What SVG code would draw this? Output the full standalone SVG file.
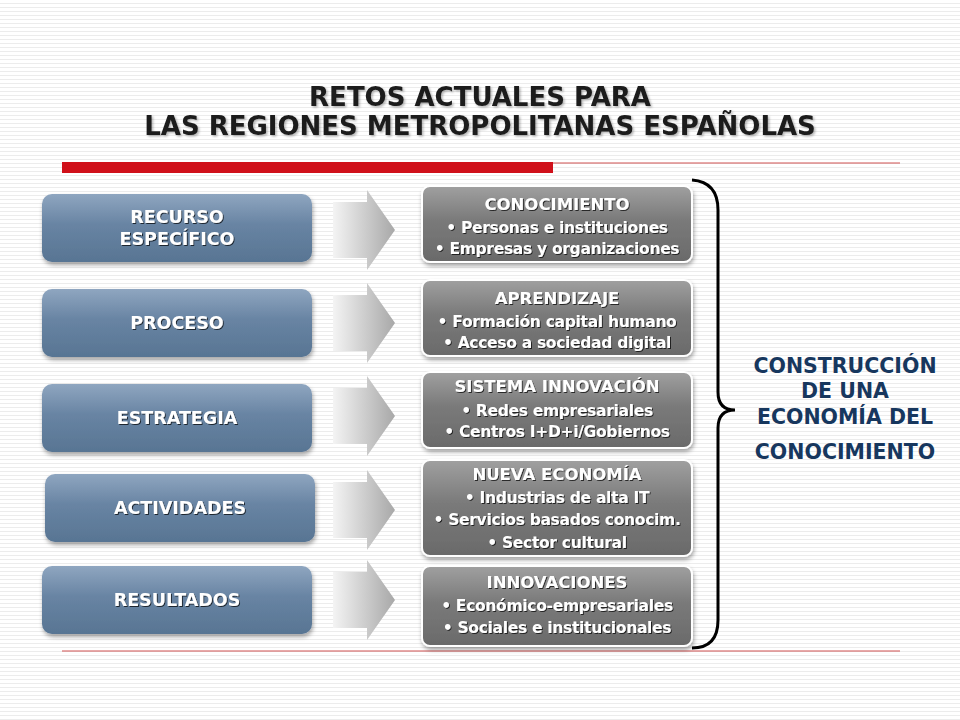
<svg xmlns="http://www.w3.org/2000/svg" width="960" height="720" viewBox="0 0 960 720">
<defs>
<pattern id="stripes" width="4" height="4" patternUnits="userSpaceOnUse"><rect width="4" height="4" fill="#ffffff"/><rect y="3" width="4" height="1" fill="#ececec"/></pattern>
<linearGradient id="blue" x1="0" y1="0" x2="0" y2="1"><stop offset="0" stop-color="#8fa6c0"/><stop offset="0.45" stop-color="#6884a3"/><stop offset="1" stop-color="#587593"/></linearGradient>
<linearGradient id="gray" x1="0" y1="0" x2="0" y2="1"><stop offset="0" stop-color="#a0a0a0"/><stop offset="0.45" stop-color="#7a7a7a"/><stop offset="1" stop-color="#6a6a6a"/></linearGradient>
<linearGradient id="arr" x1="0" y1="0" x2="1" y2="0"><stop offset="0" stop-color="#f4f4f4"/><stop offset="1" stop-color="#a8a8a8"/></linearGradient>
<filter id="sh" x="-10%" y="-10%" width="120%" height="130%"><feDropShadow dx="1" dy="3" stdDeviation="2" flood-color="#000" flood-opacity="0.35"/></filter>
<filter id="ts"><feDropShadow dx="1" dy="1" stdDeviation="0.6" flood-color="#000" flood-opacity="0.7"/></filter>
<filter id="ts2"><feDropShadow dx="1.5" dy="1.5" stdDeviation="0.8" flood-color="#000" flood-opacity="0.3"/></filter>
<path id="chev" d="M0,12 L34,12 L34,0 L62,40 L34,80 L34,68 L0,68 Z"/>
</defs>
<style>
.l{fill:url(#blue);filter:url(#sh)}
.r{fill:url(#gray);filter:url(#sh);stroke:#fff;stroke-width:2}
.t{font-family:"DejaVu Sans",Verdana,sans-serif;font-weight:bold;fill:#fff;text-anchor:middle;filter:url(#ts)}
.lt{font-size:17.5px}
.rt{font-size:15.5px;letter-spacing:-0.3px}
.h{font-size:16.5px}
.ttl{font-family:"DejaVu Sans",Verdana,sans-serif;font-weight:bold;font-size:26px;fill:#1a1a1a;text-anchor:middle;filter:url(#ts2)}
.c{font-family:"DejaVu Sans",Verdana,sans-serif;font-weight:bold;font-size:20.5px;fill:#17375e;text-anchor:middle}
</style>
<rect width="960" height="720" fill="url(#stripes)"/>
<text class="ttl" x="480" y="106">RETOS ACTUALES PARA</text>
<text class="ttl" x="480" y="135">LAS REGIONES METROPOLITANAS ESPAÑOLAS</text>
<rect x="62" y="162" width="491" height="11" fill="#d0101a"/>
<line x1="553" y1="163" x2="900" y2="163" stroke="#d05050" stroke-width="1"/>
<line x1="62" y1="651" x2="900" y2="651" stroke="#d05050" stroke-width="1"/>

<g id="n-recurso"><rect class="l" x="42" y="194" width="270" height="68" rx="10"/><text class="t lt" x="177" y="223">RECURSO</text><text class="t lt" x="177" y="245">ESPECÍFICO</text></g>
<g id="n-proceso"><rect class="l" x="42" y="289" width="270" height="68" rx="10"/><text class="t lt" x="177" y="329">PROCESO</text></g>
<g id="n-estrategia"><rect class="l" x="42" y="384" width="270" height="68" rx="10"/><text class="t lt" x="177" y="424">ESTRATEGIA</text></g>
<g id="n-actividades"><rect class="l" x="45" y="474" width="270" height="68" rx="10"/><text class="t lt" x="180" y="514">ACTIVIDADES</text></g>
<g id="n-resultados"><rect class="l" x="42" y="566" width="270" height="68" rx="10"/><text class="t lt" x="177" y="606">RESULTADOS</text></g>

<g id="connectors" fill="url(#arr)">
<use href="#chev" x="333" y="190"/>
<use href="#chev" x="333" y="283"/>
<use href="#chev" x="333" y="376"/>
<use href="#chev" x="333" y="470"/>
<use href="#chev" x="333" y="560"/>
<path d="M692,180 Q718,182 718,210 L718,392 Q718,410 735,410 Q718,410 718,428 L718,620 Q718,648 692,648" fill="none" stroke="#000" stroke-width="3"/>
</g>

<g id="n-conocimiento"><rect class="r" x="422" y="186" width="270" height="76" rx="8"/><text class="t h" x="557" y="210">CONOCIMIENTO</text><text class="t rt" x="557" y="233">• Personas e instituciones</text><text class="t rt" x="557" y="254">• Empresas y organizaciones</text></g>
<g id="n-aprendizaje"><rect class="r" x="422" y="280" width="270" height="76" rx="8"/><text class="t h" x="557" y="304">APRENDIZAJE</text><text class="t rt" x="557" y="327">• Formación capital humano</text><text class="t rt" x="557" y="348">• Acceso a sociedad digital</text></g>
<g id="n-sistema"><rect class="r" x="422" y="372" width="270" height="76" rx="8"/><text class="t h" x="557" y="392">SISTEMA INNOVACIÓN</text><text class="t rt" x="557" y="416">• Redes empresariales</text><text class="t rt" x="557" y="437">• Centros I+D+i/Gobiernos</text></g>
<g id="n-nueva"><rect class="r" x="422" y="460" width="270" height="96" rx="8"/><text class="t h" x="557" y="480">NUEVA ECONOMÍA</text><text class="t rt" x="557" y="503">• Industrias de alta IT</text><text class="t rt" x="557" y="525">• Servicios basados conocim.</text><text class="t rt" x="557" y="548">• Sector cultural</text></g>
<g id="n-innovaciones"><rect class="r" x="422" y="566" width="270" height="80" rx="8"/><text class="t h" x="557" y="588">INNOVACIONES</text><text class="t rt" x="557" y="611">• Económico-empresariales</text><text class="t rt" x="557" y="633">• Sociales e institucionales</text></g>

<g id="n-construccion"><text class="c" x="845" y="373">CONSTRUCCIÓN</text><text class="c" x="845" y="398">DE UNA</text><text class="c" x="845" y="424">ECONOMÍA DEL</text><text class="c" x="845" y="459">CONOCIMIENTO</text></g>
</svg>
